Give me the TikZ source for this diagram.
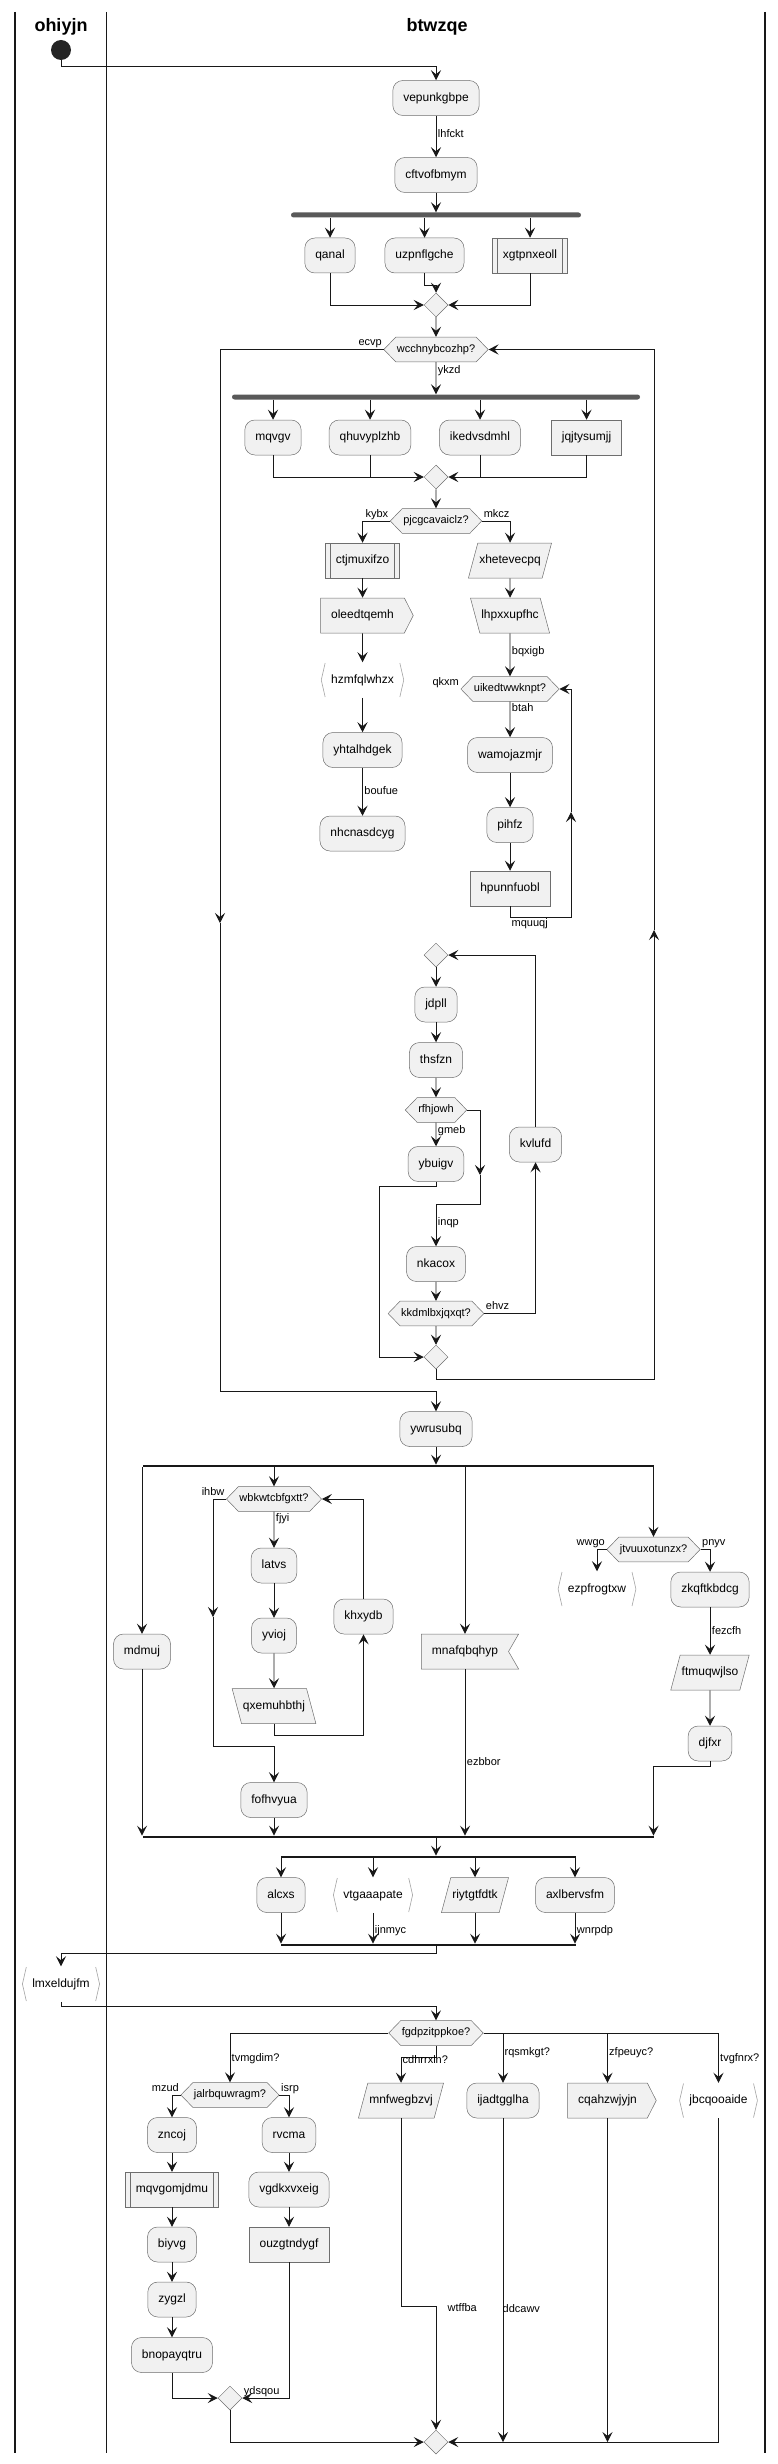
\documentclass[tikz,border=0pt]{standalone}
\usepackage{fontspec}
\setmainfont{Liberation Sans}
\usetikzlibrary{shapes.geometric,shapes.symbols,arrows.meta,calc}
\definecolor{actfill}{HTML}{F1F1F1}
\definecolor{actline}{HTML}{181818}
\definecolor{actedge}{HTML}{6E6E6E}

\begin{document}
\begin{tikzpicture}[x=1pt,y=-1pt]
\tikzstyle{base}=[font=\fontsize{12}{14}\selectfont, text height=8.7pt, text depth=2.6pt,
  inner xsep=10.5pt, inner ysep=11.85pt, draw=actedge, line width=0.5pt, fill=actfill]
\tikzstyle{act}=[base, rectangle, rounded corners=10pt]
\tikzstyle{actrect}=[base, rectangle]
\tikzstyle{actsub}=[base, rectangle, path picture={
  \draw[actedge, line width=0.5pt]
    ([xshift=5pt]path picture bounding box.north west) -- ([xshift=5pt]path picture bounding box.south west)
    ([xshift=-5pt]path picture bounding box.north east) -- ([xshift=-5pt]path picture bounding box.south east);}]
\tikzstyle{actin}=[base, trapezium, trapezium left angle=75, trapezium right angle=105, inner xsep=1.5pt]
\tikzstyle{actback}=[base, trapezium, trapezium left angle=105, trapezium right angle=75, inner xsep=1.5pt]
\tikzstyle{actsend}=[base, signal, signal to=east, signal pointer angle=126]
\tikzstyle{actrecv}=[base, signal, signal to=nowhere, signal from=east, signal pointer angle=120]
\tikzstyle{actbr}=[base, rectangle, draw=none, fill=white, path picture={
  \draw[actline!40, line width=0.6pt]
    ([xshift=4.5pt,yshift=-0.5pt]path picture bounding box.north west) -- ([xshift=0.6pt]path picture bounding box.west)
      -- ([xshift=4.5pt,yshift=0.5pt]path picture bounding box.south west)
    ([xshift=-4.5pt,yshift=-0.5pt]path picture bounding box.north east) -- ([xshift=-0.6pt]path picture bounding box.east)
      -- ([xshift=-4.5pt,yshift=0.5pt]path picture bounding box.south east);}]
\tikzstyle{hex}=[signal, signal to=east and west, signal pointer angle=92, draw=actedge, line width=0.5pt,
  fill=actfill, font=\fontsize{11}{13}\selectfont, text height=8pt, text depth=2.3pt, inner xsep=1pt, inner ysep=7.3pt]
\tikzstyle{merge}=[diamond, draw=actedge, line width=0.5pt, fill=actfill, minimum width=24pt, minimum height=24pt, inner sep=0pt]
\tikzstyle{forkbar}=[rectangle, fill=actline!72, rounded corners=2.5pt, minimum height=5pt, inner sep=0pt]
\tikzstyle{splitbar}=[rectangle, fill=actline, minimum height=2.2pt, inner sep=0pt]
\tikzstyle{start}=[circle, fill=actline!95, minimum size=20pt, inner sep=0pt]
\tikzstyle{lane}=[font=\fontsize{18}{21}\selectfont\bfseries, inner sep=0pt]
\tikzstyle{lbl}=[font=\fontsize{11}{13}\selectfont, text height=8pt, text depth=2.3pt, inner sep=1.5pt]
\tikzstyle{arr}=[draw=actline, line width=0.9pt, -{Stealth[length=10pt,width=10pt,inset=4pt]}]
\tikzstyle{ln}=[draw=actline, line width=0.9pt]

\useasboundingbox (0,0) rectangle (777,2464);

% swimlanes
\draw[actline, line width=1.4pt] (15,12) -- (15,2453) (765,12) -- (765,2453);
\draw[actline, line width=0.9pt] (106,12) -- (106,2453);
\node[lane] (lnA) at (61,27) {ohiyjn};
\node[lane] (lnB) at (437,27) {btwzqe};

\node[start] (st) at (61,50) {};
\node[act] (vep) at (436,98) {vepunkgbpe};
\node[act] (cft) at (436,175) {cftvofbmym};
\node[forkbar, minimum width=290pt] (fk1) at (436,215) {};
\node[act] (qan) at (330,255.5) {qanal};
\node[act] (uzp) at (424.5,255.5) {uzpnflgche};
\node[actsub] (xgt) at (530,255.5) {xgtpnxeoll};
\node[merge] (mg1) at (436,305) {};
\node[hex] (wcc) at (436,349.5) {wcchnybcozhp?};
\node[forkbar, minimum width=408pt] (fk2) at (436,397) {};
\node[act] (mqv) at (273,437.5) {mqvgv};
\node[act] (qhu) at (370,437.5) {qhuvyplzhb};
\node[act] (ike) at (480,437.5) {ikedvsdmhl};
\node[actrect] (jqj) at (586.5,437.5) {jqjtysumjj};
\node[merge] (mg2) at (436,477) {};
\node[hex] (pjc) at (436,521) {pjcgcavaiclz?};
\node[actsub] (ctj) at (362.5,560.5) {ctjmuxifzo};
\node[actsend] (ole) at (362.5,615.5) {oleedtqemh};
\node[actbr] (hzm) at (362.5,680) {hzmfqlwhzx};
\node[act] (yht) at (362.5,750) {yhtalhdgek};
\node[act] (nhc) at (362.5,833.5) {nhcnasdcyg};
\node[actin] (xhe) at (510,560.5) {xhetevecpq};
\node[actback] (lhp) at (510,615.5) {lhpxxupfhc};
\node[hex] (uik) at (510,689) {uikedtwwknpt?};
\node[act] (wam) at (510,755) {wamojazmjr};
\node[act] (pih) at (510,825) {pihfz};
\node[actrect] (hpu) at (510,888.5) {hpunnfuobl};
\node[merge] (mg3) at (436,955) {};
\node[act] (jdp) at (436,1004.5) {jdpll};
\node[act] (ths) at (436,1060) {thsfzn};
\node[hex] (rfh) at (436,1110) {rfhjowh};
\node[act] (ybu) at (436,1164) {ybuigv};
\node[act] (kvl) at (535.5,1144.5) {kvlufd};
\node[act] (nka) at (436,1264) {nkacox};
\node[hex] (kkd) at (436,1313.5) {kkdmlbxjqxqt?};
\node[merge] (mg4) at (436,1357) {};
\node[act] (ywr) at (436,1429) {ywrusubq};
\node[splitbar, minimum width=511pt] (sp1) at (398,1466) {};
\node[act] (mdm) at (142,1651.5) {mdmuj};
\node[hex] (wbk) at (274,1499) {wbkwtcbfgxtt?};
\node[act] (lat) at (274,1565.5) {latvs};
\node[act] (yvi) at (274,1635.5) {yvioj};
\node[actback] (qxe) at (274,1706) {qxemuhbthj};
\node[act] (khx) at (363.5,1616.5) {khxydb};
\node[act] (fof) at (274,1800) {fofhvyua};
\node[actrecv] (mna) at (465,1651.5) {mnafqbqhyp};
\node[hex] (jtv) at (653.5,1549.5) {jtvuuxotunzx?};
\node[actbr] (ezp) at (597,1589) {ezpfrogtxw};
\node[act] (zkq) at (710,1589.5) {zkqftkbdcg};
\node[actin] (ftm) at (710,1672.5) {ftmuqwjlso};
\node[act] (djf) at (710,1743.5) {djfxr};
\node[splitbar, minimum width=511pt] (jn1) at (398,1837) {};
\node[splitbar, minimum width=295pt] (sp2) at (428.5,1857) {};
\node[act] (alc) at (281,1895) {alcxs};
\node[actbr] (vtg) at (373,1895) {vtgaaapate};
\node[actin] (riy) at (475,1895) {riytgtfdtk};
\node[act] (axl) at (575,1895) {axlbervsfm};
\node[splitbar, minimum width=295pt] (jn2) at (428.5,1945) {};
\node[actbr] (lmx) at (61,1984) {lmxeldujfm};
\node[hex] (fgd) at (436,2033) {fgdpzitppkoe?};
\node[hex] (jal) at (230,2095) {jalrbquwragm?};
\node[act] (znc) at (172,2135) {zncoj};
\node[actsub] (mqg) at (172,2189.5) {mqvgomjdmu};
\node[act] (biy) at (172,2244.5) {biyvg};
\node[act] (zyg) at (172,2299.5) {zygzl};
\node[act] (bno) at (172,2355) {bnopayqtru};
\node[act] (rvc) at (289,2135) {rvcma};
\node[act] (vgd) at (289,2189.5) {vgdkxvxeig};
\node[actrect] (ouz) at (289,2244.5) {ouzgtndygf};
\node[merge] (mg5) at (230,2398) {};
\node[actin] (mnf) at (401,2100.5) {mnfwegbzvj};
\node[act] (ija) at (503,2100.5) {ijadtgglha};
\node[actsend] (cqa) at (607.5,2100.5) {cqahzwjyjn};
\node[actbr] (jbc) at (718.5,2100.5) {jbcqooaide};
\node[merge] (mg6) at (436,2442) {};

% top part
\draw[arr] (st.south) -- ++(0,6) -| (vep.north);
\draw[arr] (vep) -- node[lbl,right,pos=0.46]{lhfckt} (cft);
\draw[arr] (cft) -- (fk1);
\foreach \n in {qan,uzp,xgt} \draw[arr] (fk1.south -| \n.north) -- (\n.north);
\draw[arr] (qan.south) |- (mg1.west);
\draw[arr] (xgt.south) |- (mg1.east);
\draw[arr] (uzp.south) -- ++(0,12) -| (mg1.north);
\draw[arr] (mg1) -- (wcc);
\draw[arr] (wcc) -- node[lbl,right,pos=0.25]{ykzd} (fk2);
\foreach \n in {mqv,qhu,ike,jqj} \draw[arr] (fk2.south -| \n.north) -- (\n.north);
\draw[arr] (mqv.south) |- (mg2.west);
\draw[arr] (jqj.south) |- (mg2.east);
\draw[ln] (qhu.south) -- (qhu.south |- mg2.west);
\draw[ln] (ike.south) -- (ike.south |- mg2.east);
\draw[arr] (mg2) -- (pjc);
\draw[arr] (pjc.west) -| (ctj.north);
\draw[arr] (pjc.east) -| (xhe.north);
\node[lbl, anchor=south east] at (pjc.west) {kybx};
\node[lbl, anchor=south west] at (pjc.east) {mkcz};
\draw[arr] (ctj) -- (ole);
\draw[arr] (ole) -- (hzm);
\draw[arr] (hzm) -- (yht);
\draw[arr] (yht) -- node[lbl,right]{boufue} (nhc);
\draw[arr] (xhe) -- (lhp);
\draw[arr] (lhp) -- node[lbl,right,pos=0.43]{bqxigb} (uik);
\draw[arr] (uik) -- node[lbl,right,pos=0.2]{btah} (wam);
\draw[arr] (wam) -- (pih);
\draw[arr] (pih) -- (hpu);
\coordinate (bkU) at (571,812);
\draw[arr] (hpu.south) -- ++(0,11) -| (bkU);
\draw[arr] (bkU) |- (uik.east);
\node[lbl, anchor=north west] at ([yshift=-11pt]hpu.south) {mquuqj};
\node[lbl, anchor=south east] at (uik.west) {qkxm};

% repeat
\draw[arr] (mg3) -- (jdp);
\draw[arr] (jdp) -- (ths);
\draw[arr] (ths) -- (rfh);
\draw[arr] (rfh) -- node[lbl,right,pos=0.33]{gmeb} (ybu);
\coordinate (inR) at (480,1175);
\draw[arr] (rfh.east) -| (inR);
\draw[arr] (inR) |- ($(nka.north)+(0,-42)$) -- node[lbl,right,pos=0.43]{inqp} (nka.north);
\draw[arr] (ybu.south) -- ++(0,5) -| ([xshift=-44pt]mg4.west) -- (mg4.west);
\draw[arr] (nka) -- (kkd);
\draw[arr] (kkd) -- (mg4);
\draw[arr] (kkd.east) -| (kvl.south);
\node[lbl, anchor=south west] at (kkd.east) {ehvz};
\draw[arr] (kvl.north) |- (mg3.east);

% while loop
\node[lbl, anchor=south east] at (wcc.west) {ecvp};
\coordinate (exL) at (220,923);
\draw[arr] (wcc.west) -| (exL);
\draw[arr] (exL) |- ($(ywr.north)+(0,-20)$) -- (ywr.north);
\coordinate (bkR) at (654,930);
\draw[arr] (mg4.south) -- ++(0,10) -| (bkR);
\draw[arr] (bkR) |- (wcc.east);

% split
\draw[arr] (ywr.south) -- (ywr.south |- sp1.north);
\foreach \n in {mdm,wbk,jtv} \draw[arr] (sp1.south -| \n.north) -- (\n.north);
\draw[arr] (sp1.south -| mna.center) -- (mna.north -| mna.center);
\node[lbl, anchor=south east] at (wbk.west) {ihbw};
\coordinate (exW) at (213,1617);
\draw[arr] (wbk.west) -| (exW);
\draw[arr] (exW) |- ($(fof.north)+(0,-36)$) -- (fof.north);
\draw[arr] (wbk) -- node[lbl,right,pos=0.2]{fjyi} (lat);
\draw[arr] (lat) -- (yvi);
\draw[arr] (yvi) -- (qxe);
\draw[arr] (qxe.south) -- ++(0,12) -| (khx.south);
\draw[arr] (khx.north) |- (wbk.east);
\draw[arr] (fof.south) -- (fof.south |- jn1.north);
\draw[arr] (mdm.south) -- (mdm.south |- jn1.north);
\draw[arr] (mna.south -| mna.center) -- node[lbl,right,pos=0.56]{ezbbor} (jn1.north -| mna.center);
\draw[arr] (jtv.west) -| (ezp.north);
\draw[arr] (jtv.east) -| (zkq.north);
\node[lbl, anchor=south east] at (jtv.west) {wwgo};
\node[lbl, anchor=south west] at (jtv.east) {pnyv};
\draw[arr] (zkq) -- node[lbl,right,pos=0.52]{fezcfh} (ftm);
\draw[arr] (ftm) -- (djf);
\draw[arr] (djf.south) -- ++(0,5) -| (jn1.north -| jtv.south);
\draw[arr] (jn1.south -| ywr.south) -- (sp2.north -| ywr.south);
\foreach \n in {alc,vtg,riy,axl} \draw[arr] (sp2.south -| \n.north) -- (\n.north);
\draw[arr] (alc.south) -- (alc.south |- jn2.north);
\draw[arr] (vtg.south) -- node[lbl,right,pos=0.58]{ijnmyc} (vtg.south |- jn2.north);
\draw[arr] (riy.south) -- (riy.south |- jn2.north);
\draw[arr] (axl.south) -- node[lbl,right,pos=0.58]{wnrpdp} (axl.south |- jn2.north);
\draw[arr] (jn2.south -| ywr.south) -- ++(0,7) -| (lmx.north);
\draw[arr] (lmx.south) -- ++(0,5) -| (fgd.north);

% switch
\draw[arr] (fgd.west) -| (jal.north);
\draw[arr] (fgd.south) -- ++(0,12) -| (mnf.north);
\draw[arr] (fgd.east) -| (ija.north);
\draw[arr] (fgd.east) -| (cqa.north);
\draw[arr] (fgd.east) -| (jbc.north);
\node[lbl, anchor=west] at ([yshift=24pt]jal.north) {tvmgdim?};
\node[lbl, anchor=west] at ([yshift=22pt]mnf.north) {cdhrrxln?};
\node[lbl, anchor=west] at ([yshift=30pt]ija.north) {rqsmkgt?};
\node[lbl, anchor=west] at ([yshift=30pt]cqa.north) {zfpeuyc?};
\node[lbl, anchor=west] at ([yshift=24pt]jbc.north) {tvgfnrx?};
\draw[arr] (jal.west) -| (znc.north);
\draw[arr] (jal.east) -| (rvc.north);
\node[lbl, anchor=south east] at (jal.west) {mzud};
\node[lbl, anchor=south west] at (jal.east) {isrp};
\draw[arr] (znc) -- (mqg);
\draw[arr] (mqg) -- (biy);
\draw[arr] (biy) -- (zyg);
\draw[arr] (zyg) -- (bno);
\draw[arr] (rvc) -- (vgd);
\draw[arr] (vgd) -- (ouz);
\draw[arr] (bno.south) |- (mg5.west);
\draw[arr] (ouz.south) |- (mg5.east);
\node[lbl, anchor=south west] at (mg5.east) {ydsqou};
\draw[arr] (mg5.south) |- (mg6.west);
\draw[arr] (mnf.south) |- ($(mg6.north)+(0,-123)$) -- (mg6.north);
\node[lbl, anchor=west] at ([xshift=10pt,yshift=121pt]mg6.north) {wtffba};
\draw[arr] (ija.south) -- (ija.south |- mg6.east);
\node[lbl, anchor=west] at ([xshift=-2pt,yshift=-191pt]ija.south) {ddcawv};
\draw[arr] (cqa.south) -- (cqa.south |- mg6.east);
\draw[arr] (jbc.south) |- (mg6.east);
\end{tikzpicture}
\end{document}
